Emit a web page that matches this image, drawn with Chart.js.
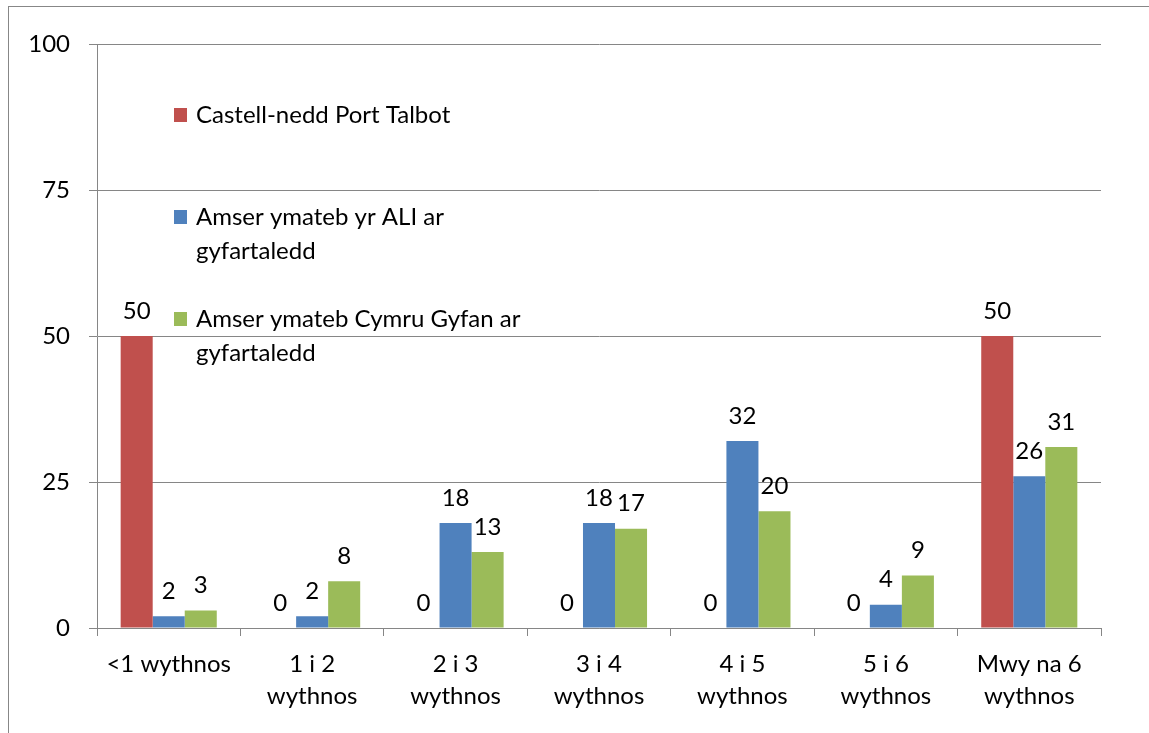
<!DOCTYPE html>
<html>
<head>
<meta charset="utf-8">
<script src="https://cdn.jsdelivr.net/npm/chart.js@4.4.1/dist/chart.umd.min.js"></script>
<style>
html,body{margin:0;padding:0;background:#fff;}
#wrap{position:relative;width:1149px;height:733px;}
</style>
</head>
<body>
<div id="wrap"><canvas id="c" width="1149" height="733"></canvas></div>
<script>
const categories = [["<1 wythnos"], ["1 i 2", "wythnos"], ["2 i 3", "wythnos"], ["3 i 4", "wythnos"], ["4 i 5", "wythnos"], ["5 i 6", "wythnos"], ["Mwy na 6", "wythnos"]];
const seriesNames = [["Castell-nedd Port Talbot"], ["Amser ymateb yr ALI ar", "gyfartaledd"], ["Amser ymateb Cymru Gyfan ar", "gyfartaledd"]];
const castellNedd = [50, 0, 0, 0, 0, 0, 50];
const aliAverage = [2, 2, 18, 18, 32, 4, 26];
const walesAverage = [3, 8, 13, 17, 20, 9, 31];
const yTicks = [0, 25, 50, 75, 100];
const colors = ["#C0504D", "#4F81BD", "#9BBB59"];

const FONT = "Lato, 'Open Sans', sans-serif";
const FS = 24;

const framePlugin = {
  id: 'frame',
  beforeDraw(chart) {
    const ctx = chart.ctx;
    ctx.save();
    ctx.fillStyle = '#fff';
    ctx.fillRect(0, 0, chart.width, chart.height);
    ctx.strokeStyle = '#878787';
    ctx.lineWidth = 1;
    ctx.strokeRect(8.5, 6.5, 1300, 900);
    ctx.restore();
  }
};

const labelPlugin = {
  id: 'valueLabels',
  afterDatasetsDraw(chart) {
    const ctx = chart.ctx;
    ctx.save();
    ctx.font = FS + "px " + FONT;
    ctx.fillStyle = '#000';
    ctx.textAlign = 'center';
    ctx.textBaseline = 'middle';
    chart.data.datasets.forEach((ds, i) => {
      const meta = chart.getDatasetMeta(i);
      meta.data.forEach((bar, j) => {
        ctx.fillText(String(ds.data[j]), bar.x, bar.y - 25);
      });
    });
    ctx.restore();
  }
};

const legendPlugin = {
  id: 'innerLegend',
  afterDraw(chart) {
    const ctx = chart.ctx;
    ctx.save();
    ctx.font = FS + "px " + FONT;
    ctx.textAlign = 'left';
    ctx.textBaseline = 'middle';
    const startY = [115, 217, 319];
    chart.data.datasets.forEach((ds, i) => {
      const y = startY[i];
      ctx.fillStyle = ds.backgroundColor;
      ctx.fillRect(174, y - 7, 13, 14);
      ctx.fillStyle = '#000';
      seriesNames[i].forEach((line, k) => {
        ctx.fillText(line, 196, y + k * 34);
      });
    });
    ctx.restore();
  }
};

new Chart(document.getElementById('c'), {
  type: 'bar',
  data: {
    labels: categories,
    datasets: [
      { label: seriesNames[0].join(' '), data: castellNedd, backgroundColor: colors[0] },
      { label: seriesNames[1].join(' '), data: aliAverage, backgroundColor: colors[1] },
      { label: seriesNames[2].join(' '), data: walesAverage, backgroundColor: colors[2] }
    ]
  },
  options: {
    responsive: false,
    animation: false,
    devicePixelRatio: 1,
    layout: { padding: { left: 0, top: 44, right: 48, bottom: 0 } },
    datasets: { bar: { barPercentage: 1, categoryPercentage: 0.67 } },
    plugins: { legend: { display: false }, tooltip: { enabled: false } },
    scales: {
      x: {
        afterFit(s) { s.height = 105; },
        grid: { display: true, drawOnChartArea: false, drawTicks: true, tickLength: 8, color: '#868686', offset: true },
        border: { display: true, color: '#868686' },
        ticks: { color: '#000', font: { family: FONT, size: FS, lineHeight: 1.33 }, padding: 12, maxRotation: 0, autoSkip: false }
      },
      y: {
        min: 0, max: 100,
        afterFit(s) { s.width = 97; },
        afterBuildTicks(s) { s.ticks = yTicks.map(v => ({ value: v })); },
        grid: { color: '#868686', tickLength: 8, drawTicks: true },
        border: { display: true, color: '#868686' },
        ticks: { color: '#000', font: { family: FONT, size: FS }, padding: 19 }
      }
    }
  },
  plugins: [framePlugin, labelPlugin, legendPlugin]
});
</script>
</body>
</html>
